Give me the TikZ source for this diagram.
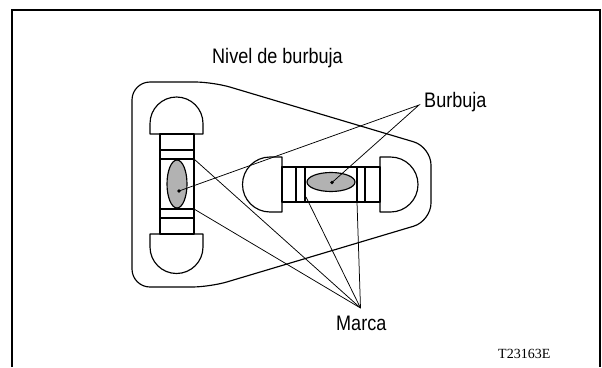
\documentclass[tikz,border=0pt]{standalone}
\usepackage{fontspec}
\setmainfont{Liberation Sans}
\newfontfamily\lblfont[FakeStretch=0.86]{Liberation Sans}
\newfontfamily\codefont{Liberation Serif}
\usetikzlibrary{calc}

\tikzset{
  frame/.style={line width=1.6pt},
  part/.style={line width=1.15pt, line join=round, fill=white},
  lead/.style={line width=0.75pt},
  bubble/.style={line width=1.15pt, fill=gray!60},
  lbl/.style={inner sep=0pt, anchor=base west, font=\lblfont\fontsize{21}{24}\selectfont},
}

\begin{document}
\begin{tikzpicture}[x=1pt, y=1pt]
  \useasboundingbox (0,0) rectangle (602,-367);
  \draw[frame] (12,-367) -- (12,-10) -- (600,-10) -- (600,-367);

  % base plate
  \draw[part, rounded corners=18] (132,-190) -- (132,-82) -- (213,-82)
    -- (431,-147) -- (431,-221) -- (210,-287) -- (132,-287) -- cycle;

  % vertical vial
  \draw[part] (150,-134) -- (150,-123.5) arc[start angle=180, end angle=0, radius=26.5]
    -- (203,-134) -- cycle;
  \draw[part] (150,-234) -- (150,-247) arc[start angle=180, end angle=360, radius=26.5]
    -- (203,-234) -- cycle;
  \draw[part] (160,-134) rectangle (194,-234);
  \foreach \y in {150,159,209,218}
    \draw[line width=1.15pt] (160,-\y) -- (194,-\y);
  \draw[bubble] (177,-184) ellipse[x radius=10, y radius=24];

  % horizontal vial
  \draw[part] (282,-157) -- (270,-157) arc[start angle=90, end angle=270, radius=27.5]
    -- (282,-212) -- cycle;
  \draw[part] (380,-157) -- (390.5,-157) arc[start angle=90, end angle=-90, radius=27.5]
    -- (380,-212) -- cycle;
  \draw[part] (282,-167) rectangle (380,-202);
  \foreach \x in {296,305,357,365}
    \draw[line width=1.15pt] (\x,-167) -- (\x,-202);
  \draw[bubble] (331,-182) ellipse[x radius=24, y radius=9.5];

  % leader ends
  \coordinate (b1) at (179,-191);
  \coordinate (b2) at (332,-182.5);
  \coordinate (m1) at (194,-159);
  \coordinate (m2) at (194,-209);
  \coordinate (m3) at (306,-197);
  \coordinate (m4) at (357,-202);
  \coordinate (bj) at (419,-105);
  \coordinate (mj) at (360.5,-308);
  \fill (b1) circle (1.8);
  \fill (b2) circle (1.8);

  \draw[lead] (b1) -- (bj) -- (b2);
  \foreach \p in {m1,m2,m3,m4}
    \draw[lead] (\p) -- (mj);

  % labels
  \node[lbl] (nivel) at (212,-63.3) {Nivel de burbuja};
  \node[lbl] (burbuja) at (424,-107.3) {Burbuja};
  \node[lbl] (marca) at (336,-330.7) {Marca};
  \node[inner sep=0pt, anchor=base west, font=\codefont\fontsize{14}{16}\selectfont]
    (code) at (498,-358) {T23163E};
\end{tikzpicture}
\end{document}
